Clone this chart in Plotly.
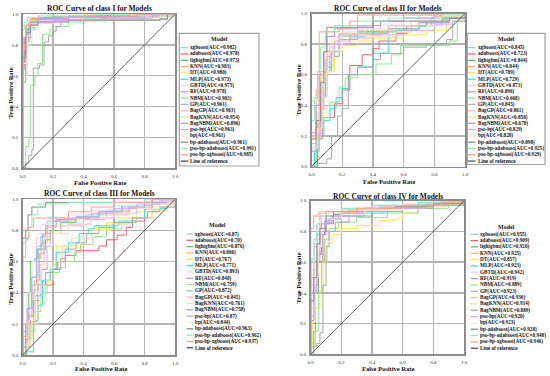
import plotly.graph_objects as go

# ---------------- data ----------------
models = ["xgboost", "adaboost", "lightgbm", "KNN", "DT", "MLP", "GBTD", "RF", "NBM", "GP",
          "BagGP", "BagKNN", "BagNBM", "pso-bp", "bp", "bp-adaboost", "pso-bp-adaboost", "pso-bp-xgboost"]
colors = ["#9ecae1", "#f0607a", "#66c266", "#fdae6b", "#ffe44d", "#2ee6d6", "#f9d0f0", "#c28cf0",
          "#8fe88f", "#9bb8e8", "#ffb3c6", "#e8e0b0", "#a8a8a8", "#d6a8f0", "#f2ecd0", "#8c8c8c",
          "#8ef0b8", "#ffa090"]
ref_label = "Line of reference"
class_names = ["I", "II", "III", "IV"]

auc_I = ["0.982", "0.978", "0.973", "0.983", "0.980", "0.973", "0.975", "0.978", "0.903", "0.961",
         "0.963", "0.954", "0.896", "0.963", "0.961", "0.961", "0.991", "0.985"]
auc_II = ["0.845", "0.723", "0.844", "0.844", "0.789", "0.729", "0.871", "0.896", "0.668", "0.845",
          "0.861", "0.858", "0.678", "0.829", "0.828", "0.898", "0.925", "0.929"]
auc_III = ["0.87", "0.70", "0.876", "0.866", "0.767", "0.771", "0.893", "0.840", "0.759", "0.872",
           "0.845", "0.761", "0.758", "0.87", "0.844", "0.963", "0.962", "0.937"]
auc_IV = ["0.955", "0.909", "0.920", "0.925", "0.857", "0.923", "0.942", "0.919", "0.889", "0.923",
          "0.930", "0.934", "0.889", "0.920", "0.923", "0.928", "0.948", "0.946"]

# ROC step points (FPR, TPR) per model
roc_I = [
    [(0, 0), (0, 0.80), (0.02, 0.90), (0.04, 0.95), (0.08, 0.97), (0.2, 0.985), (0.8, 1), (1, 1)],
    [(0, 0), (0, 0.64), (0.01, 0.85), (0.03, 0.93), (0.06, 0.97), (0.15, 0.98), (0.45, 0.99), (0.95, 1), (1, 1)],
    [(0, 0), (0, 0.56), (0.02, 0.82), (0.04, 0.90), (0.08, 0.95), (0.15, 0.97), (0.3, 0.98), (0.9, 1), (1, 1)],
    [(0, 0), (0, 0.84), (0.02, 0.92), (0.05, 0.96), (0.1, 0.98), (0.3, 0.99), (0.7, 1), (1, 1)],
    [(0, 0), (0, 0.80), (0.03, 0.93), (0.05, 0.96), (0.12, 0.97), (0.25, 0.98), (0.4, 1), (1, 1)],
    [(0, 0), (0, 0.74), (0.02, 0.86), (0.04, 0.91), (0.07, 0.95), (0.12, 0.97), (0.3, 0.98), (0.8, 1), (1, 1)],
    [(0, 0), (0, 0.78), (0.02, 0.88), (0.05, 0.94), (0.1, 0.96), (0.2, 0.975), (0.6, 0.99), (1, 1)],
    [(0, 0), (0, 0.82), (0.02, 0.90), (0.05, 0.95), (0.1, 0.97), (0.3, 0.985), (0.75, 1), (1, 1)],
    [(0, 0), (0.02, 0.14), (0.04, 0.19), (0.05, 0.54), (0.08, 0.60), (0.1, 0.68), (0.13, 0.87), (0.18, 0.90),
     (0.2, 0.92), (0.3, 0.95), (0.4, 0.97), (0.55, 0.98), (0.9, 0.99), (1, 1)],
    [(0, 0), (0, 0.70), (0.02, 0.85), (0.05, 0.92), (0.1, 0.95), (0.2, 0.96), (0.5, 0.97), (0.85, 0.99), (1, 1)],
    [(0, 0), (0, 0.72), (0.02, 0.86), (0.05, 0.93), (0.1, 0.95), (0.25, 0.965), (0.6, 0.98), (0.9, 1), (1, 1)],
    [(0, 0), (0, 0.60), (0.03, 0.80), (0.06, 0.90), (0.1, 0.94), (0.2, 0.955), (0.55, 0.96), (0.9, 0.99), (1, 1)],
    [(0, 0), (0.02, 0.03), (0.04, 0.08), (0.06, 0.12), (0.07, 0.16), (0.07, 0.65), (0.11, 0.67), (0.14, 0.82),
     (0.17, 0.86), (0.2, 0.89), (0.22, 0.92), (0.25, 0.963), (0.9, 0.965), (0.95, 1), (1, 1)],
    [(0, 0), (0, 0.66), (0.02, 0.84), (0.05, 0.92), (0.1, 0.95), (0.2, 0.96), (0.55, 0.975), (0.8, 1), (1, 1)],
    [(0, 0), (0, 0.68), (0.03, 0.86), (0.06, 0.92), (0.12, 0.95), (0.3, 0.965), (0.9, 0.98), (1, 1)],
    [(0, 0), (0, 0.72), (0.02, 0.88), (0.05, 0.93), (0.1, 0.95), (0.3, 0.963), (0.9, 0.97), (0.95, 1), (1, 1)],
    [(0, 0), (0, 0.90), (0.01, 0.95), (0.03, 0.98), (0.1, 0.99), (0.45, 1), (1, 1)],
    [(0, 0), (0, 0.85), (0.02, 0.93), (0.05, 0.97), (0.1, 0.98), (0.4, 0.99), (0.7, 1), (1, 1)],
]

roc_II = [
    [(0, 0), (0, 0.15), (0.04, 0.30), (0.07, 0.50), (0.1, 0.65), (0.14, 0.80), (0.2, 0.85), (0.35, 0.88),
     (0.55, 0.92), (0.75, 0.95), (0.9, 0.98), (1, 1)],
    [(0, 0), (0.04, 0.18), (0.07, 0.32), (0.15, 0.41), (0.2, 0.50), (0.25, 0.66), (0.33, 0.73), (0.4, 0.77),
     (0.44, 0.82), (0.55, 0.87), (0.62, 0.92), (0.75, 0.94), (0.9, 0.98), (1, 1)],
    [(0, 0), (0, 0.10), (0.03, 0.25), (0.06, 0.45), (0.09, 0.62), (0.12, 0.72), (0.18, 0.86), (0.3, 0.88),
     (0.5, 0.90), (0.7, 0.94), (0.85, 0.97), (1, 1)],
    [(0, 0), (0, 0.20), (0.03, 0.50), (0.06, 0.62), (0.1, 0.75), (0.15, 0.82), (0.25, 0.86), (0.45, 0.88),
     (0.65, 0.92), (0.85, 0.96), (1, 1)],
    [(0, 0), (0, 0.18), (0.05, 0.30), (0.08, 0.50), (0.1, 0.62), (0.15, 0.75), (0.2, 0.79), (0.3, 0.82),
     (0.4, 0.84), (0.6, 0.86), (0.75, 0.89), (0.88, 0.98), (1, 1)],
    [(0, 0), (0.02, 0.10), (0.05, 0.20), (0.08, 0.30), (0.12, 0.38), (0.16, 0.45), (0.2, 0.51), (0.24, 0.60),
     (0.3, 0.65), (0.4, 0.74), (0.5, 0.85), (0.55, 0.89), (0.7, 0.92), (0.78, 0.97), (0.95, 1), (1, 1)],
    [(0, 0), (0, 0.20), (0.04, 0.35), (0.07, 0.55), (0.1, 0.70), (0.13, 0.85), (0.2, 0.88), (0.3, 0.90),
     (0.45, 0.93), (0.6, 0.97), (0.8, 0.99), (1, 1)],
    [(0, 0), (0, 0.22), (0.03, 0.40), (0.05, 0.60), (0.08, 0.75), (0.1, 0.85), (0.15, 0.90), (0.3, 0.92),
     (0.45, 0.95), (0.6, 0.97), (0.8, 1), (1, 1)],
    [(0, 0), (0.03, 0.12), (0.05, 0.22), (0.08, 0.32), (0.12, 0.42), (0.18, 0.52), (0.22, 0.58), (0.3, 0.60),
     (0.42, 0.67), (0.52, 0.73), (0.58, 0.79), (0.9, 0.82), (0.95, 0.95), (1, 1)],
    [(0, 0), (0, 0.12), (0.04, 0.28), (0.07, 0.45), (0.1, 0.62), (0.13, 0.75), (0.18, 0.83), (0.3, 0.87),
     (0.5, 0.90), (0.7, 0.94), (0.88, 0.98), (1, 1)],
    [(0, 0), (0, 0.20), (0.03, 0.30), (0.06, 0.55), (0.09, 0.70), (0.12, 0.80), (0.18, 0.87), (0.3, 0.89),
     (0.5, 0.92), (0.65, 0.95), (0.8, 0.98), (1, 1)],
    [(0, 0), (0, 0.43), (0.04, 0.50), (0.07, 0.60), (0.1, 0.70), (0.14, 0.80), (0.2, 0.86), (0.35, 0.89),
     (0.55, 0.92), (0.7, 0.95), (0.85, 0.98), (1, 1)],
    [(0, 0), (0.04, 0.02), (0.1, 0.05), (0.13, 0.20), (0.17, 0.33), (0.2, 0.38), (0.24, 0.60), (0.3, 0.65),
     (0.4, 0.70), (0.45, 0.74), (0.6, 0.78), (0.75, 0.80), (0.88, 0.83), (0.92, 0.95), (1, 1)],
    [(0, 0), (0, 0.10), (0.03, 0.20), (0.06, 0.38), (0.08, 0.55), (0.1, 0.72), (0.15, 0.80), (0.25, 0.84),
     (0.4, 0.86), (0.6, 0.89), (0.8, 0.93), (0.92, 0.97), (1, 1)],
    [(0, 0), (0, 0.12), (0.04, 0.25), (0.07, 0.45), (0.1, 0.62), (0.14, 0.76), (0.2, 0.82), (0.35, 0.85),
     (0.55, 0.88), (0.75, 0.92), (0.9, 0.96), (1, 1)],
    [(0, 0), (0, 0.18), (0.03, 0.30), (0.06, 0.55), (0.08, 0.75), (0.1, 0.91), (0.4, 0.95), (0.9, 0.97), (1, 1)],
    [(0, 0), (0, 0.30), (0.02, 0.45), (0.04, 0.62), (0.06, 0.78), (0.09, 0.88), (0.15, 0.92), (0.3, 0.95),
     (0.5, 0.97), (0.7, 0.99), (1, 1)],
    [(0, 0), (0, 0.20), (0.05, 0.22), (0.05, 0.88), (0.18, 0.90), (0.25, 0.95), (0.3, 0.99), (0.85, 1), (1, 1)],
]

roc_III = [
    [(0, 0), (0, 0.10), (0.03, 0.30), (0.06, 0.50), (0.1, 0.70), (0.13, 0.78), (0.16, 0.86), (0.25, 0.88),
     (0.4, 0.90), (0.55, 0.93), (0.7, 0.96), (0.85, 0.98), (1, 1)],
    [(0, 0), (0.02, 0.10), (0.05, 0.22), (0.1, 0.35), (0.15, 0.45), (0.2, 0.55), (0.23, 0.60), (0.28, 0.64),
     (0.35, 0.67), (0.5, 0.70), (0.55, 0.74), (0.62, 0.77), (0.68, 0.82), (0.72, 0.86), (0.8, 0.94),
     (0.85, 0.98), (1, 1)],
    [(0, 0), (0, 0.05), (0.02, 0.20), (0.04, 0.40), (0.05, 0.60), (0.08, 0.62), (0.1, 0.68), (0.15, 0.74),
     (0.18, 0.80), (0.25, 0.85), (0.35, 0.88), (0.5, 0.92), (0.65, 0.96), (0.8, 0.98), (1, 1)],
    [(0, 0), (0, 0.12), (0.03, 0.25), (0.06, 0.45), (0.09, 0.62), (0.12, 0.72), (0.16, 0.82), (0.22, 0.86),
     (0.35, 0.88), (0.5, 0.92), (0.7, 0.95), (0.85, 0.98), (1, 1)],
    [(0, 0), (0.03, 0.10), (0.06, 0.25), (0.1, 0.35), (0.15, 0.45), (0.18, 0.52), (0.2, 0.58), (0.22, 0.70),
     (0.4, 0.78), (0.45, 0.81), (0.55, 0.85), (0.62, 0.88), (0.75, 0.92), (0.9, 0.95), (1, 1)],
    [(0, 0), (0.02, 0.02), (0.07, 0.04), (0.07, 0.22), (0.1, 0.32), (0.13, 0.48), (0.18, 0.55), (0.22, 0.66),
     (0.3, 0.72), (0.37, 0.78), (0.43, 0.81), (0.47, 0.83), (0.63, 0.86), (0.72, 0.88), (0.8, 0.94),
     (0.95, 0.98), (1, 1)],
    [(0, 0), (0, 0.20), (0.03, 0.40), (0.06, 0.60), (0.09, 0.75), (0.12, 0.84), (0.18, 0.88), (0.3, 0.90),
     (0.45, 0.93), (0.6, 0.96), (0.8, 0.99), (1, 1)],
    [(0, 0), (0, 0.05), (0.04, 0.20), (0.08, 0.38), (0.12, 0.55), (0.16, 0.70), (0.2, 0.78), (0.3, 0.84),
     (0.45, 0.88), (0.6, 0.91), (0.75, 0.94), (0.9, 0.97), (1, 1)],
    [(0, 0), (0.02, 0.05), (0.05, 0.15), (0.08, 0.28), (0.12, 0.40), (0.16, 0.48), (0.2, 0.53), (0.24, 0.56),
     (0.28, 0.60), (0.34, 0.66), (0.38, 0.71), (0.46, 0.76), (0.55, 0.81), (0.65, 0.85), (0.75, 0.88),
     (0.85, 0.93), (0.95, 0.98), (1, 1)],
    [(0, 0), (0, 0.15), (0.03, 0.30), (0.06, 0.50), (0.09, 0.68), (0.12, 0.76), (0.15, 0.83), (0.22, 0.87),
     (0.35, 0.89), (0.5, 0.92), (0.65, 0.95), (0.8, 0.98), (1, 1)],
    [(0, 0), (0, 0.08), (0.03, 0.22), (0.07, 0.42), (0.1, 0.58), (0.14, 0.70), (0.18, 0.78), (0.25, 0.83),
     (0.4, 0.87), (0.55, 0.90), (0.7, 0.94), (0.85, 0.97), (1, 1)],
    [(0, 0), (0, 0.05), (0.05, 0.20), (0.1, 0.35), (0.15, 0.48), (0.2, 0.60), (0.26, 0.70), (0.32, 0.75),
     (0.45, 0.80), (0.58, 0.84), (0.7, 0.88), (0.85, 0.93), (0.95, 0.98), (1, 1)],
    [(0, 0), (0.02, 0.10), (0.04, 0.25), (0.07, 0.35), (0.1, 0.45), (0.15, 0.53), (0.2, 0.55), (0.25, 0.62),
     (0.28, 0.68), (0.35, 0.72), (0.42, 0.78), (0.5, 0.82), (0.6, 0.85), (0.72, 0.88), (0.82, 0.92),
     (0.9, 0.95), (1, 1)],
    [(0, 0), (0, 0.10), (0.04, 0.30), (0.08, 0.48), (0.11, 0.65), (0.14, 0.78), (0.2, 0.86), (0.3, 0.88),
     (0.45, 0.91), (0.6, 0.94), (0.75, 0.97), (0.9, 0.99), (1, 1)],
    [(0, 0), (0, 0.06), (0.04, 0.22), (0.08, 0.40), (0.12, 0.58), (0.16, 0.70), (0.2, 0.78), (0.3, 0.84),
     (0.45, 0.88), (0.6, 0.91), (0.75, 0.94), (0.9, 0.97), (1, 1)],
    [(0, 0), (0, 0.75), (0.02, 0.80), (0.035, 0.90), (0.06, 0.95), (0.15, 0.98), (0.85, 1), (1, 1)],
    [(0, 0), (0, 0.72), (0.02, 0.74), (0.04, 0.82), (0.06, 0.90), (0.1, 0.97), (0.3, 0.98), (0.8, 1), (1, 1)],
    [(0, 0), (0, 0.63), (0.02, 0.75), (0.04, 0.82), (0.07, 0.88), (0.3, 0.92), (0.45, 0.95), (0.6, 0.98),
     (0.85, 1), (1, 1)],
]

roc_IV = [
    [(0, 0), (0, 0.60), (0.02, 0.75), (0.04, 0.85), (0.06, 0.90), (0.1, 0.93), (0.2, 0.95), (0.4, 0.97),
     (0.7, 0.99), (1, 1)],
    [(0, 0), (0, 0.30), (0.03, 0.45), (0.05, 0.60), (0.08, 0.78), (0.1, 0.85), (0.15, 0.88), (0.2, 0.92),
     (0.35, 0.95), (0.55, 0.96), (0.75, 0.98), (1, 1)],
    [(0, 0), (0, 0.05), (0.02, 0.15), (0.03, 0.40), (0.05, 0.65), (0.07, 0.80), (0.1, 0.88), (0.15, 0.91),
     (0.25, 0.94), (0.45, 0.96), (0.7, 0.98), (1, 1)],
    [(0, 0), (0, 0.50), (0.02, 0.60), (0.04, 0.78), (0.06, 0.85), (0.1, 0.88), (0.18, 0.92), (0.3, 0.94),
     (0.5, 0.96), (0.75, 0.98), (1, 1)],
    [(0, 0), (0, 0.05), (0.01, 0.21), (0.03, 0.30), (0.06, 0.42), (0.08, 0.60), (0.11, 0.72), (0.14, 0.78),
     (0.2, 0.82), (0.3, 0.84), (0.45, 0.87), (0.55, 0.88), (0.6, 0.92), (0.7, 0.96), (0.9, 0.98), (1, 1)],
    [(0, 0), (0, 0.62), (0.02, 0.70), (0.04, 0.78), (0.07, 0.85), (0.12, 0.88), (0.2, 0.90), (0.35, 0.92),
     (0.5, 0.95), (0.7, 0.97), (0.9, 0.99), (1, 1)],
    [(0, 0), (0, 0.55), (0.02, 0.70), (0.04, 0.82), (0.06, 0.88), (0.1, 0.92), (0.2, 0.94), (0.35, 0.96),
     (0.6, 0.98), (1, 1)],
    [(0, 0), (0, 0.22), (0.02, 0.40), (0.04, 0.60), (0.06, 0.78), (0.09, 0.86), (0.14, 0.90), (0.25, 0.93),
     (0.4, 0.95), (0.65, 0.97), (0.85, 0.99), (1, 1)],
    [(0, 0), (0.02, 0.05), (0.03, 0.15), (0.05, 0.40), (0.07, 0.60), (0.09, 0.75), (0.12, 0.82), (0.18, 0.86),
     (0.3, 0.89), (0.5, 0.92), (0.7, 0.95), (0.9, 0.98), (1, 1)],
    [(0, 0), (0, 0.40), (0.02, 0.55), (0.04, 0.72), (0.06, 0.82), (0.1, 0.88), (0.18, 0.91), (0.3, 0.93),
     (0.5, 0.95), (0.75, 0.97), (1, 1)],
    [(0, 0), (0, 0.45), (0.02, 0.60), (0.04, 0.75), (0.06, 0.85), (0.1, 0.90), (0.2, 0.92), (0.35, 0.95),
     (0.6, 0.97), (0.8, 0.99), (1, 1)],
    [(0, 0), (0, 0.90), (0.04, 0.91), (0.05, 0.93), (0.2, 0.94), (0.5, 0.95), (0.8, 0.97), (1, 1)],
    [(0, 0), (0.02, 0.05), (0.04, 0.07), (0.06, 0.14), (0.08, 0.45), (0.1, 0.70), (0.12, 0.80), (0.16, 0.86),
     (0.25, 0.90), (0.4, 0.93), (0.6, 0.95), (0.8, 0.97), (1, 1)],
    [(0, 0), (0, 0.25), (0.02, 0.45), (0.04, 0.65), (0.06, 0.80), (0.09, 0.87), (0.15, 0.90), (0.3, 0.93),
     (0.5, 0.95), (0.75, 0.97), (1, 1)],
    [(0, 0), (0, 0.30), (0.03, 0.50), (0.05, 0.70), (0.07, 0.82), (0.1, 0.88), (0.2, 0.91), (0.35, 0.94),
     (0.6, 0.96), (0.85, 0.98), (1, 1)],
    [(0, 0), (0, 0.35), (0.02, 0.50), (0.04, 0.72), (0.06, 0.82), (0.1, 0.90), (0.15, 0.93), (0.3, 0.95),
     (0.55, 0.96), (0.8, 0.98), (1, 1)],
    [(0, 0), (0, 0.60), (0.02, 0.72), (0.04, 0.85), (0.07, 0.90), (0.12, 0.93), (0.25, 0.95), (0.45, 0.97),
     (0.7, 0.99), (1, 1)],
    [(0, 0), (0, 0.82), (0.02, 0.90), (0.06, 0.92), (0.1, 0.93), (0.3, 0.95), (0.6, 0.97), (0.85, 0.99), (1, 1)],
]

ref_x = [0, 1]
ref_y = [0, 1]
tick_vals = [0.0, 0.2, 0.4, 0.6, 0.8, 1.0]
tick_text = ["0.0", "0.2", "0.4", "0.6", "0.8", "1.0"]

all_roc = [roc_I, roc_II, roc_III, roc_IV]
all_auc = [auc_I, auc_II, auc_III, auc_IV]

# ---------------- layout (pixel geometry) ----------------
W, H = 550, 376
FONT = "Liberation Serif"
# plot boxes: left, right, top, bottom (px)
boxes = [(22.7, 175.0, 14.3, 168.0),
         (311.5, 465.0, 13.5, 166.5),
         (22.7, 175.0, 199.3, 355.0),
         (310.7, 464.0, 200.7, 354.3)]
titles_pos = [(99, 8.3), (388, 8.3), (99, 193.3), (387.5, 196)]
xlab_pos = [(100, 182.5), (388.5, 181.5), (100.5, 368.5), (387.5, 368)]
ylab_pos = [(9.5, 93), (297.5, 90), (9.5, 279), (297.5, 278)]
# legends: title center x, title y, swatch x0, x1, first item y, step, box (x0,x1,y0,y1) or None
legends = [(219, 39, 180.7, 188.3, 47.7, 6.3, (179.3, 259, 33.3, 166)),
           (506, 39, 468, 475.5, 47.7, 6.3, (467.3, 545, 33.3, 164.5)),
           (217, 225, 186.5, 193, 234, 6.32, None),
           (506, 227, 470.7, 478, 234.3, 6.33, None)]


def px(x):
    return x / W


def py(y):
    return 1 - y / H


fig = go.Figure()
shapes = []
annotations = []
layout_axes = {}

for k in range(4):
    ax = "" if k == 0 else str(k + 1)
    xa, ya = "x" + ax, "y" + ax
    l, r, t, b = boxes[k]
    for i, m in enumerate(models):
        pts = all_roc[k][i]
        fig.add_trace(go.Scatter(
            x=[p[0] for p in pts], y=[p[1] for p in pts], mode="lines",
            line=dict(color=colors[i], width=1, shape="hv"),
            name=m, showlegend=False, xaxis=xa, yaxis=ya, hoverinfo="skip"))
    fig.add_trace(go.Scatter(x=ref_x, y=ref_y, mode="lines",
                             line=dict(color="#505050", width=0.9),
                             showlegend=False, xaxis=xa, yaxis=ya, hoverinfo="skip"))
    common = dict(range=[0, 1], tickvals=tick_vals, ticktext=tick_text,
                  showgrid=True, gridcolor="#b4b4b4", gridwidth=1.4,
                  showline=True, linecolor="#8c8c8c", linewidth=1.5, mirror=True,
                  zeroline=False, ticks="", tickfont=dict(family=FONT, size=5, color="#333"),
                  fixedrange=True, automargin=False)
    layout_axes["xaxis" + ax] = dict(domain=[px(l), px(r)], anchor=ya, ticklabelstandoff=2, **common)
    layout_axes["yaxis" + ax] = dict(domain=[py(b), py(t)], anchor=xa, ticklabelstandoff=2, **common)

    tx, ty = titles_pos[k]
    annotations.append(dict(text="<b>ROC Curve of class %s for Models</b>" % class_names[k],
                            x=px(tx), y=py(ty), xref="paper", yref="paper", showarrow=False,
                            xanchor="center", yanchor="middle",
                            font=dict(family=FONT, size=7.5, color="#111")))
    tx, ty = xlab_pos[k]
    annotations.append(dict(text="<b>False Positive Rate</b>", x=px(tx), y=py(ty), xref="paper",
                            yref="paper", showarrow=False, xanchor="center", yanchor="middle",
                            font=dict(family=FONT, size=6.5, color="#111")))
    tx, ty = ylab_pos[k]
    annotations.append(dict(text="<b>True Positive Rate</b>", x=px(tx), y=py(ty), xref="paper",
                            yref="paper", showarrow=False, xanchor="center", yanchor="middle",
                            textangle=-90, font=dict(family=FONT, size=6.5, color="#111")))

    # legend drawn as text + swatches
    cx, ty, sx0, sx1, y0, step, box = legends[k]
    if box is not None:
        shapes.append(dict(type="rect", xref="paper", yref="paper",
                           x0=px(box[0]), x1=px(box[1]), y0=py(box[3]), y1=py(box[2]),
                           line=dict(color="#a0a0a0", width=1.2), fillcolor="white", layer="below"))
    annotations.append(dict(text="<b>Model</b>", x=px(cx), y=py(ty), xref="paper", yref="paper",
                            showarrow=False, xanchor="center", yanchor="middle",
                            font=dict(family=FONT, size=6, color="#111")))
    labels = ["%s(AUC=%s)" % (m, a) for m, a in zip(models, all_auc[k])] + [ref_label]
    cols = colors + ["#505050"]
    for j, (lab, c) in enumerate(zip(labels, cols)):
        yy = y0 + j * step
        shapes.append(dict(type="line", xref="paper", yref="paper", x0=px(sx0), x1=px(sx1),
                           y0=py(yy), y1=py(yy), line=dict(color=c, width=1.3)))
        annotations.append(dict(text="<b>%s</b>" % lab, x=px(sx1 + 1.0), y=py(yy), xref="paper",
                                yref="paper", showarrow=False, xanchor="left", yanchor="middle",
                                borderpad=0, font=dict(family=FONT, size=5.2, color="#111")))

fig.update_layout(template="none", width=W, height=H, margin=dict(l=0, r=0, t=0, b=0, pad=0),
                  paper_bgcolor="white", plot_bgcolor="white",
                  shapes=shapes, annotations=annotations, **layout_axes)

# remove the browser's default page margin so the figure sits at the top-left corner
fig.write_html("out.html", config={"displayModeBar": False, "staticPlot": True},
               post_script="document.body.style.margin='0px';document.body.style.overflow='hidden';")
